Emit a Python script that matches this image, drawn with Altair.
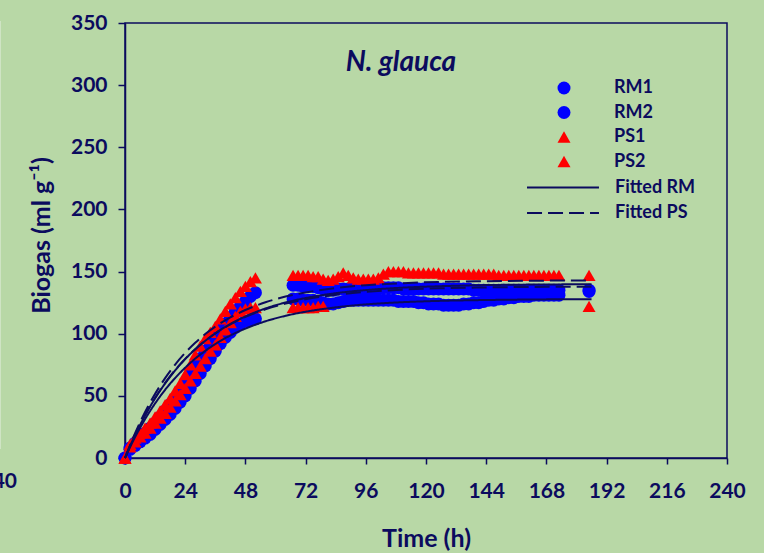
import altair as alt
import pandas as pd

NAVY = "#0b0b5e"
BG = "#b8d8a6"
BLUE = "#0000ff"
RED = "#ff0000"
FONT = "Lato"

# ---- measured cumulative biogas (ml g-1) ----
T_EARLY = list(range(0, 53, 2))          # 0 .. 52 h
T_LATE = list(range(67, 174, 2))         # 67 .. 173 h
T_LATE_PS2 = list(range(67, 80, 2))      # 67 .. 79 h
T_FINAL = [185]

RM1_EARLY = [0, 8, 12, 16, 20, 24, 28, 33, 38, 43, 48, 54, 60, 67, 74, 80, 86, 92, 98,
             103, 108, 113, 118, 122, 126, 130, 133]
RM2_EARLY = [0, 7, 10, 13, 16, 19, 23, 27, 31, 35, 40, 45, 50, 56, 62, 68, 74, 80, 86,
             92, 97, 101, 105, 108, 110, 111, 112]
PS1_EARLY = [0, 11, 16, 20, 24, 28, 33, 38, 43, 48, 54, 60, 67, 75, 83, 90, 96, 101, 106,
             112, 118, 124, 129, 134, 138, 142, 145]
PS2_EARLY = [0, 9, 13, 17, 20, 24, 28, 32, 36, 41, 46, 51, 56, 62, 68, 74, 80, 86, 91,
             97, 103, 109, 114, 118, 120, 121, 121]

RM1_LATE = [139, 139, 138, 138, 138, 137,
            136, 135, 135, 136, 136, 136, 136, 136, 136, 136, 136, 136,
            137, 137, 137, 137, 136, 136, 136, 136, 136, 136, 136, 136, 136, 136, 136, 136,
            136, 136, 135, 135, 135, 135, 135, 135, 135, 135, 135, 135, 135, 135, 135, 135,
            135, 135, 135, 135]
RM2_LATE = [128, 128, 127, 127, 127, 126,
            125, 124, 124, 125, 126, 127, 127, 127, 127, 127, 127, 127,
            127, 127, 127, 126, 126, 126, 126, 125, 125, 124, 124, 124, 123, 123, 123, 123,
            124, 124, 125, 125, 126, 127, 127, 128, 128, 129, 129, 130, 130, 130, 131, 131,
            131, 131, 131, 131]
PS1_LATE = [147, 147, 147, 147, 146, 146, 144, 143, 144, 146, 149, 147, 145, 144, 144,
            144, 144, 145, 148, 150, 150, 150, 150, 149, 149, 149, 149, 149, 149, 149,
            148, 148, 148, 148, 148, 148, 148, 148, 148, 148, 148, 147, 147, 147, 147,
            147, 147, 147, 147, 147, 147, 147, 147, 147]
PS2_LATE = [121, 121, 121, 121, 121, 122, 122]

RM1_FINAL = [135]
RM2_FINAL = [134]
PS1_FINAL = [147]
PS2_FINAL = [122]

SERIES = ["RM1", "RM2", "PS1", "PS2"]

# ---- fitted first-order curves ----
FIT_T = [0, 3, 6, 9, 12, 16, 20, 24, 28, 32, 36, 42, 48, 56, 64, 72, 84, 96, 110, 125,
         140, 160, 186]
FIT_RM1 = [0, 14.0, 26.5, 37.8, 48.0, 60.0, 70.5, 79.6, 87.5, 94.3, 100.3, 107.8, 113.9,
           120.3, 125.1, 128.7, 132.6, 135.1, 137.0, 138.2, 139.0, 139.5, 139.8]
FIT_RM2 = [0, 12.8, 24.2, 34.6, 43.9, 54.9, 64.4, 72.7, 80.0, 86.2, 91.7, 98.6, 104.1,
           110.0, 114.4, 117.7, 121.2, 123.6, 125.3, 126.4, 127.0, 127.5, 127.8]
FIT_PS1 = [0, 15.1, 28.7, 40.8, 51.6, 64.3, 75.2, 84.6, 92.7, 99.7, 105.7, 113.1, 119.1,
           125.3, 129.9, 133.2, 136.8, 139.0, 140.6, 141.7, 142.2, 142.6, 142.9]
FIT_PS2 = [0, 14.1, 26.8, 38.2, 48.4, 60.4, 70.8, 79.8, 87.6, 94.4, 100.2, 107.6, 113.5,
           119.6, 124.2, 127.7, 131.3, 133.6, 135.4, 136.5, 137.1, 137.6, 137.8]

rows = []
segments = {
    "RM1": [(T_EARLY, RM1_EARLY), (T_LATE, RM1_LATE), (T_FINAL, RM1_FINAL)],
    "RM2": [(T_EARLY, RM2_EARLY), (T_LATE, RM2_LATE), (T_FINAL, RM2_FINAL)],
    "PS1": [(T_EARLY, PS1_EARLY), (T_LATE, PS1_LATE), (T_FINAL, PS1_FINAL)],
    "PS2": [(T_EARLY, PS2_EARLY), (T_LATE_PS2, PS2_LATE), (T_FINAL, PS2_FINAL)],
}
for name in SERIES:
    for times, vals in segments[name]:
        for t, v in zip(times, vals):
            rows.append({"t": t, "value": v, "series": name, "idx": len(rows)})
meas = pd.DataFrame(rows)

fit_rows = []
for name, kind, vals in [("RM1", "Fitted RM", FIT_RM1), ("RM2", "Fitted RM", FIT_RM2),
                         ("PS1", "Fitted PS", FIT_PS1), ("PS2", "Fitted PS", FIT_PS2)]:
    for t, v in zip(FIT_T, vals):
        fit_rows.append({"t": t, "value": v, "fit": name, "kind": kind})
fits_df = pd.DataFrame(fit_rows)

x_scale = alt.Scale(domain=[0, 240], nice=False, zero=True)
y_scale = alt.Scale(domain=[0, 350], nice=False, zero=True)

common_axis = dict(
    grid=False, domainColor=NAVY, domainWidth=1.5, tickColor=NAVY, tickWidth=1.5,
    labelFont=FONT, labelFontSize=21, labelFontWeight="bold", labelColor=NAVY,
    labelFlush=False, labelOverlap=False,
    titleFont=FONT, titleFontWeight="bold", titleColor=NAVY,
)
x_axis = alt.Axis(values=list(range(0, 241, 24)), title="Time (h)", tickSize=6,
                  labelPadding=16, titleFontSize=25, titleX=301, titleY=80,
                  titleBaseline="middle", titleAlign="center", **common_axis)
y_axis = alt.Axis(values=list(range(0, 351, 50)), title="Biogas (ml g⁻¹)", tickSize=7,
                  labelPadding=11, titleFontSize=25, titleX=-84, titleY=212,
                  titleAngle=-90, titleAlign="center", titleBaseline="middle", **common_axis)

legend_text = dict(
    title=None, orient="none", padding=0,
    labelFont=FONT, labelFontSize=18, labelFontWeight="bold", labelColor=NAVY,
)

point_legend = alt.Legend(
    legendX=430, legendY=56, labelOffset=41, rowPadding=6.5,
    symbolSize=169, symbolStrokeWidth=0, **legend_text,
)

points = alt.Chart(meas).mark_point(filled=True, size=169, opacity=1, strokeWidth=0).encode(
    x=alt.X("t:Q", scale=x_scale, axis=x_axis),
    y=alt.Y("value:Q", scale=y_scale, axis=y_axis),
    color=alt.Color("series:N", scale=alt.Scale(domain=SERIES, range=[BLUE, BLUE, RED, RED]),
                    legend=point_legend),
    shape=alt.Shape("series:N",
                    scale=alt.Scale(domain=SERIES,
                                    range=["circle", "circle", "triangle-up", "triangle-up"]),
                    legend=point_legend),
    order=alt.Order("idx:Q"),
)

# a flat path five times wider than its nominal size gives the long key lines
line_legend = alt.Legend(
    legendX=429, legendY=155.5, labelOffset=43, rowPadding=7.5,
    symbolType="M-5,0L5,0", symbolSize=207, symbolFillColor="transparent",
    symbolStrokeColor=NAVY, symbolStrokeWidth=2, **legend_text,
)

fits = alt.Chart(fits_df).mark_line(color=NAVY, strokeWidth=2, interpolate="monotone").encode(
    x=alt.X("t:Q", scale=x_scale),
    y=alt.Y("value:Q", scale=y_scale),
    detail="fit:N",
    strokeDash=alt.StrokeDash("kind:N",
                              scale=alt.Scale(domain=["Fitted RM", "Fitted PS"],
                                              range=[[1, 0], [15, 6]]),
                              legend=line_legend),
)

species = alt.Chart(pd.DataFrame({"label": ["N. glauca"]})).mark_text(
    font=FONT, fontSize=28, fontWeight="bold", fontStyle="italic", color=NAVY,
    align="center", baseline="middle",
).encode(text="label:N", x=alt.value(276), y=alt.value(40))

# edge of the neighbouring panel
edge_label = alt.Chart(pd.DataFrame({"label": ["40"]})).mark_text(
    font=FONT, fontSize=21, fontWeight="bold", color=NAVY, align="right", baseline="middle",
).encode(text="label:N", x=alt.value(-108), y=alt.value(459))
edge_line = alt.Chart(pd.DataFrame({"a": [0]})).mark_rule(color="#cfe4c4", strokeWidth=1).encode(
    x=alt.value(-124.5), y=alt.value(-2), y2=alt.value(426)
)

chart = alt.layer(edge_line, points, fits, species, edge_label).properties(
    width=602, height=435,
    autosize=alt.AutoSizeParams(type="none"),
    padding={"left": 125, "top": 23, "right": 37, "bottom": 95},
    background=BG,
).configure_view(fill=BG, stroke=NAVY, strokeWidth=1.5)

chart.save("out.html", embed_options={"renderer": "svg", "actions": False})
